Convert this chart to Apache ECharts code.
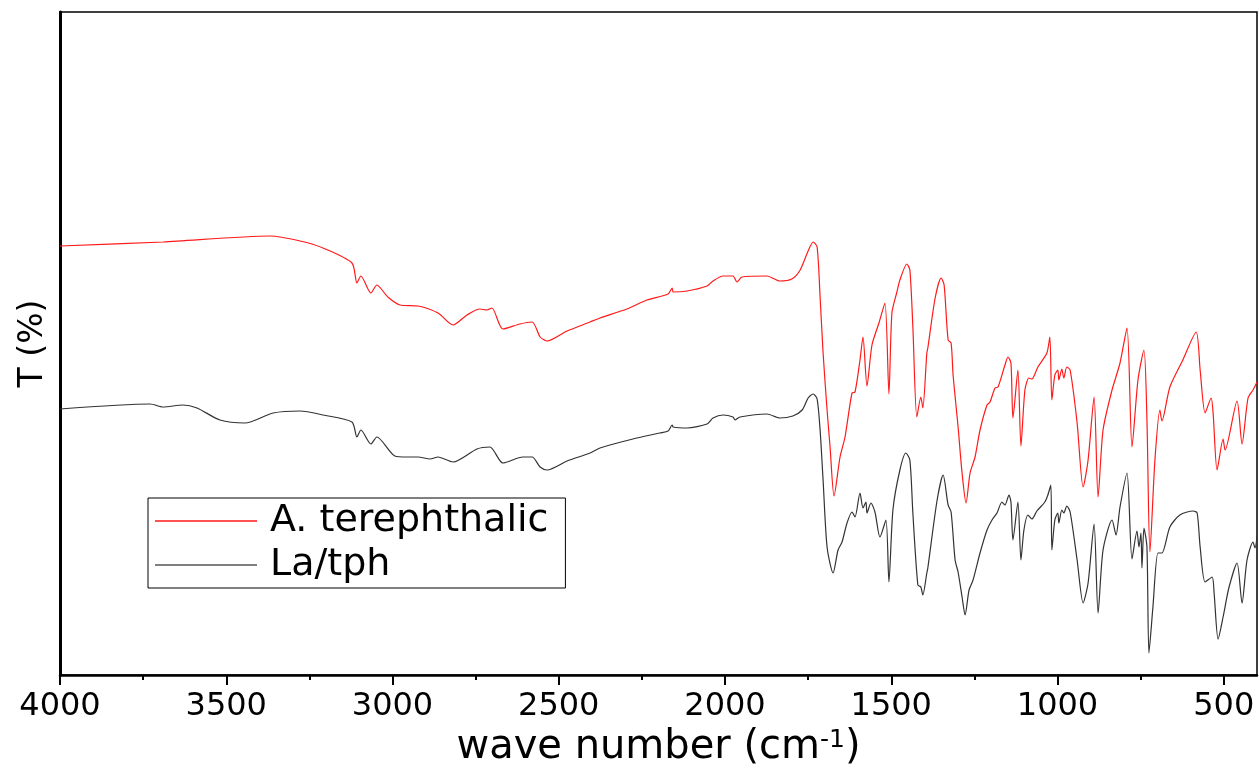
<!DOCTYPE html>
<html>
<head>
<meta charset="utf-8">
<script src="https://cdn.jsdelivr.net/npm/echarts@6/dist/echarts.min.js"></script>
<style>
html,body{margin:0;padding:0;background:#fff;}
#chart{width:1259px;height:769px;}
</style>
</head>
<body>
<div id="chart"></div>
<script>
// ---- data (wavenumber in cm-1, transmittance in arbitrary % units) ----
const seriesNames = ['A. terephthalic', 'La/tph'];
const majorTicks = [500, 1000, 1500, 2000, 2500, 3000, 3500, 4000];
const minorTicks = [750, 1250, 1750, 2250, 2750, 3250, 3750];

const acidWave = [4000,3690,3368,3278,3209,3122,3107,3095,3065,3047,3014,2977,2923,2863,2818,2776,2737,2716,2701,2668,2617,2580,2556,2535,2475,2406,2376,2295,2235,2171,2159,2156,2114,2054,2036,2006,1976,1964,1949,1874,1835,1799,1774,1750,1735,1723,1714,1705,1693,1684,1672,1654,1639,1618,1609,1594,1585,1573,1558,1537,1519,1507,1498,1483,1474,1453,1444,1435,1423,1411,1405,1393,1390,1368,1350,1341,1329,1320,1314,1299,1287,1275,1263,1248,1233,1212,1203,1188,1179,1158,1149,1140,1134,1119,1110,1098,1086,1077,1059,1032,1023,1017,1008,999,996,987,981,972,962,941,923,908,890,878,863,836,812,791,776,758,740,731,722,707,692,686,662,623,583,571,556,538,532,520,502,496,460,445,427,412,400];
const acidT = [42.9,43.3,43.9,43.4,42.7,41.2,39.2,39.9,38.2,39.0,37.8,37.0,36.9,36.2,35.0,36.0,36.6,36.5,36.7,34.6,35.1,35.3,33.8,33.4,34.4,35.3,35.7,36.6,37.5,38.1,38.7,38.3,38.4,38.9,39.4,39.9,39.9,39.3,39.8,39.9,39.4,39.6,40.5,42.4,43.3,42.8,37.8,32.2,26.5,22.8,17.9,21.8,23.8,28.2,28.3,31.5,33.8,28.9,33.0,35.2,37.2,28.1,36.2,38.3,39.5,41.1,40.5,34.8,25.8,27.8,26.7,32.2,32.7,37.7,39.7,39.0,33.5,33.2,30.0,24.8,20.2,17.2,20.2,21.8,24.5,27.0,27.3,28.7,28.8,31.0,31.8,31.2,25.7,30.5,22.9,28.5,29.7,29.6,30.8,32.2,33.8,27.5,30.0,30.5,29.5,30.6,29.7,30.8,30.5,25.2,18.8,21.5,27.8,17.8,24.5,28.5,31.2,34.7,22.8,29.5,32.5,25.5,12.3,21.5,26.5,25.4,28.8,31.5,34.3,30.5,26.2,27.7,26.2,20.5,23.6,22.5,27.4,23.1,27.7,28.5,29.3];

const latphWave = [4000,3729,3690,3630,3588,3519,3444,3359,3278,3209,3122,3107,3095,3065,3047,2993,2956,2923,2887,2863,2818,2746,2707,2668,2608,2580,2556,2535,2475,2406,2376,2277,2196,2171,2159,2156,2114,2054,2036,2006,1976,1970,1955,1874,1835,1796,1768,1750,1735,1723,1714,1705,1693,1675,1660,1648,1633,1618,1609,1594,1585,1576,1573,1561,1549,1534,1516,1507,1495,1474,1456,1444,1435,1420,1411,1405,1393,1390,1362,1344,1329,1320,1308,1299,1287,1278,1266,1254,1233,1212,1197,1182,1167,1158,1146,1140,1134,1119,1110,1101,1089,1077,1062,1038,1029,1020,1017,1008,999,996,987,981,972,962,941,923,908,890,878,863,836,824,812,791,776,761,755,749,746,740,731,725,713,698,686,662,632,592,580,571,556,535,529,517,502,484,460,445,430,412,406,400];
const latphT = [26.6,27.1,26.8,27.0,26.7,25.5,25.2,26.2,26.4,26.0,25.3,23.8,24.5,23.1,23.8,21.9,21.8,21.8,21.6,21.8,21.3,22.6,22.8,21.2,21.8,21.8,20.8,20.5,21.4,22.2,22.7,23.6,24.2,24.4,25.0,24.8,24.7,25.1,25.7,26.0,25.8,25.5,25.8,26.1,25.7,25.9,26.5,27.7,28.1,27.6,24.5,19.5,12.8,10.2,12.5,13.3,15.2,16.3,15.8,18.2,16.7,17.3,16.2,17.2,16.3,13.8,15.5,9.3,16.5,20.5,22.2,21.5,16.2,9.0,8.8,8.0,10.2,10.7,17.5,20.0,17.0,16.3,11.5,10.3,7.8,6.0,8.5,9.5,12.2,14.5,15.5,16.2,17.3,17.0,18.0,17.3,13.5,17.3,11.5,14.5,16.0,15.6,16.4,17.3,18.0,19.0,12.5,15.5,16.2,15.2,16.5,16.2,16.9,16.3,11.5,7.2,9.2,15.1,6.2,12.5,15.5,14.0,16.8,20.2,11.6,14.4,12.8,14.2,10.7,14.7,12.8,2.2,6.8,12.2,12.2,14.8,16.0,16.4,16.2,12.8,9.3,9.8,8.2,3.6,5.8,8.8,11.2,7.2,11.5,13.3,12.7,13.8];

const zip = (xs, ys) => xs.map((x, i) => [x, ys[i]]);
const FONT = 'DejaVu Sans';

const chart = echarts.init(document.getElementById('chart'), null, {renderer: 'canvas'});
chart.setOption({
  animation: false,
  backgroundColor: '#fff',
  grid: {left: 60, right: 2, top: 12, bottom: 94, outerBoundsMode: 'none', containLabel: false,
         show: true, borderColor: '#000', borderWidth: 1.5, backgroundColor: 'transparent'},
  legend: {
    orient: 'vertical', left: 148, top: 498,
    padding: [3, 17, 3, 7], itemGap: 4,
    itemWidth: 102, itemHeight: 1.5, icon: 'rect',
    borderColor: '#000', borderWidth: 1,
    textStyle: {fontFamily: FONT, fontSize: 38, color: '#000', lineHeight: 40, padding: [0, 0, 0, 8]},
    data: seriesNames
  },
  xAxis: [{
    type: 'value', inverse: true, min: 400, max: 4000, position: 'bottom',
    axisLine: {show: true, lineStyle: {color: '#000', width: 2.5}},
    axisTick: {show: true, customValues: majorTicks, length: 10, lineStyle: {color: '#000', width: 2}},
    axisLabel: {customValues: majorTicks, formatter: v => String(v), fontFamily: FONT, fontSize: 32, color: '#000', margin: 16},
    splitLine: {show: false},
    name: 'wave number (cm{sup|-1})', nameLocation: 'middle', nameGap: 52,
    nameTextStyle: {fontFamily: FONT, fontSize: 40, color: '#000',
      rich: {sup: {fontFamily: FONT, fontSize: 25, color: '#000', verticalAlign: 'top'}}}
  }, {
    type: 'value', inverse: true, min: 400, max: 4000, position: 'bottom',
    axisLine: {show: false},
    axisTick: {show: true, customValues: minorTicks, length: 5, lineStyle: {color: '#000', width: 2}},
    axisLabel: {show: false},
    splitLine: {show: false}
  }],
  yAxis: {
    type: 'value', min: 0, max: 66.3,
    axisLine: {show: true, lineStyle: {color: '#000', width: 3}},
    axisTick: {show: false}, axisLabel: {show: false}, splitLine: {show: false},
    name: 'T (%)', nameLocation: 'middle', nameGap: 10,
    nameTextStyle: {fontFamily: FONT, fontSize: 33, color: '#000'}
  },
  series: [{
    name: seriesNames[0], type: 'line', xAxisIndex: 0, data: zip(acidWave, acidT),
    symbol: 'none', smooth: 0.25, lineStyle: {color: '#ff1a1a', width: 1.2}, itemStyle: {color: '#ff1a1a'}
  }, {
    name: seriesNames[1], type: 'line', xAxisIndex: 0, data: zip(latphWave, latphT),
    symbol: 'none', smooth: 0.25, lineStyle: {color: '#333333', width: 1.2}, itemStyle: {color: '#555555'}
  }]
});
</script>
</body>
</html>
